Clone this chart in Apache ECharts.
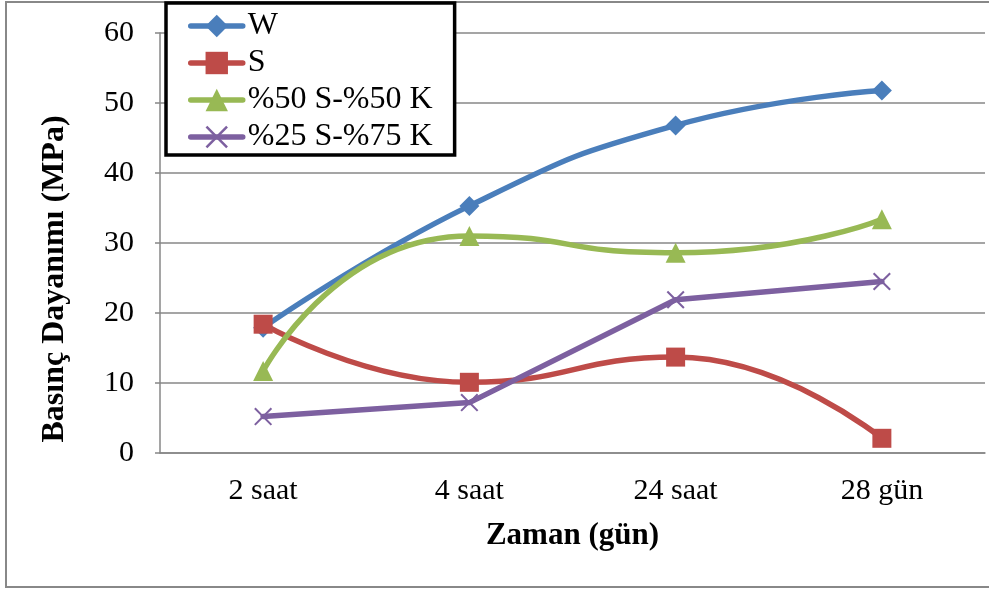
<!DOCTYPE html>
<html>
<head>
<meta charset="utf-8">
<script src="https://cdn.jsdelivr.net/npm/echarts@6/dist/echarts.min.js"></script>
<style>
  html, body { margin: 0; padding: 0; background: #fff; }
  #chart { width: 989px; height: 589px; }
</style>
</head>
<body>
<div id="chart"></div>
<script>
// Compressive strength over curing time
const categories = ['2 saat', '4 saat', '24 saat', '28 gün'];
const seriesNames = ['W', 'S', '%50 S-%50 K', '%25 S-%75 K'];
const valuesW = [17.9, 35.3, 46.8, 51.8];
const valuesS = [18.4, 10.1, 13.7, 2.1];
const values50 = [11.7, 31.0, 28.6, 33.4];
const values25 = [5.2, 7.2, 21.9, 24.5];
const yTicks = { min: 0, max: 60, interval: 10 };

const FONT = '"Liberation Serif", "Times New Roman", serif';
const CROSS = 'path://M0,0.08 L0.08,0 L0.5,0.42 L0.92,0 L1,0.08 L0.58,0.5 L1,0.92 L0.92,1 L0.5,0.58 L0.08,1 L0,0.92 L0.42,0.5 Z';

const chart = echarts.init(document.getElementById('chart'), null, { renderer: 'canvas' });

function lineSeries(name, data, color, symbol, size, smooth) {
  return {
    name, type: 'line', data, smooth,
    symbol, symbolSize: size,
    showAllSymbol: true,
    lineStyle: { color, width: 5.5, cap: 'round', join: 'round' },
    itemStyle: { color },
    emphasis: { disabled: true },
    z: 3
  };
}

chart.setOption({
  animation: false,
  backgroundColor: '#ffffff',
  grid: { left: 160, right: 4, top: 33, bottom: 136, containLabel: false },
  legend: {
    left: 166, top: 3,
    orient: 'vertical',
    padding: [7, 22, 2, 22],
    itemWidth: 52, itemHeight: 28, itemGap: 5,
    borderColor: '#000', borderWidth: 3.5,
    backgroundColor: '#fff',
    lineStyle: { width: 5.5, cap: 'round' },
    textStyle: { fontFamily: FONT, fontSize: 32, color: '#000', lineHeight: 32 },
    data: seriesNames
  },
  xAxis: {
    type: 'category', data: categories, boundaryGap: true,
    axisLine: { lineStyle: { color: '#878787', width: 1.5 } },
    axisTick: { show: false },
    axisLabel: { fontFamily: FONT, fontSize: 30, color: '#000', margin: 23 },
    name: 'Zaman (gün)', nameLocation: 'middle', nameGap: 67,
    nameTextStyle: { fontFamily: FONT, fontSize: 31, fontWeight: 'bold', color: '#000' }
  },
  yAxis: {
    type: 'value', min: yTicks.min, max: yTicks.max, interval: yTicks.interval,
    axisLine: { show: true, lineStyle: { color: '#878787', width: 1.5 } },
    axisTick: { show: true, length: 5, lineStyle: { color: '#878787', width: 1.5 } },
    splitLine: { lineStyle: { color: '#878787', width: 1.5 } },
    axisLabel: { fontFamily: FONT, fontSize: 30, color: '#000', margin: 26 }
  },
  graphic: [
    {
      type: 'rect', silent: true, z: -10,
      shape: { x: 6, y: 2, width: 1000, height: 585 },
      style: { fill: 'none', stroke: '#888', lineWidth: 2 }
    },
    {
      type: 'text', silent: true,
      x: 55, y: 279, rotation: Math.PI / 2,
      style: {
        text: 'Basınç Dayanımı (MPa)', fontFamily: FONT, fontSize: 32, fontWeight: 'bold',
        fill: '#000', align: 'center', verticalAlign: 'middle'
      }
    }
  ],
  series: [
    lineSeries(seriesNames[0], valuesW, '#4A7EBB', 'diamond', 20, 0.5),
    lineSeries(seriesNames[1], valuesS, '#BE4B48', 'rect', 19, 0.5),
    lineSeries(seriesNames[2], values50, '#98B954', 'triangle', 20, 0.6),
    lineSeries(seriesNames[3], values25, '#7D60A0', CROSS, 18, false)
  ]
});
</script>
</body>
</html>
